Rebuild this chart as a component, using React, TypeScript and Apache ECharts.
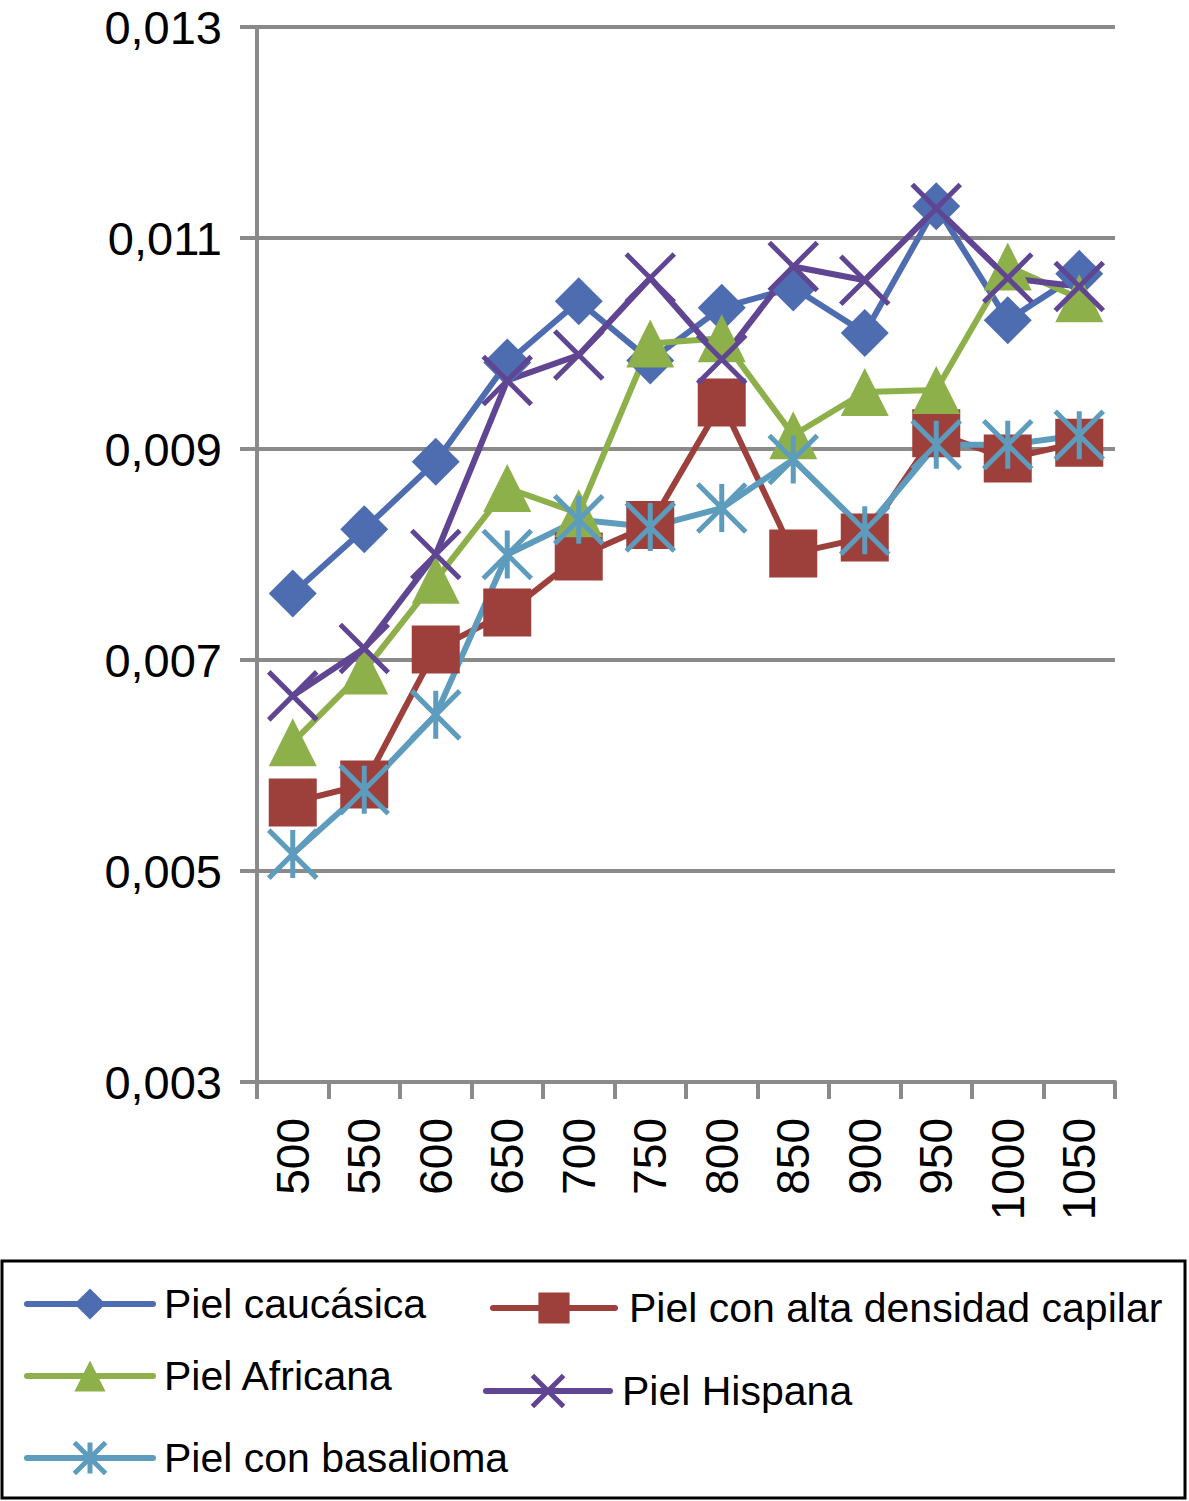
import { useEffect, useRef } from "react";
import * as echarts from "echarts/core";
import { LineChart } from "echarts/charts";
import { GridComponent, LegendComponent, GraphicComponent } from "echarts/components";
import { SVGRenderer } from "echarts/renderers";
import type { EChartsOption } from "echarts";

echarts.use([LineChart, GridComponent, LegendComponent, GraphicComponent, SVGRenderer]);

// longitudes de onda (nm)
const longitudes = ["500", "550", "600", "650", "700", "750", "800", "850", "900", "950", "1000", "1050"];

const caucasica = [0.00763, 0.00824, 0.00888, 0.00982, 0.0104, 0.00984, 0.01034, 0.01053, 0.0101, 0.0113, 0.01022, 0.01066];
const altaDensidad = [0.00565, 0.00582, 0.0071, 0.00745, 0.00798, 0.00828, 0.00944, 0.00801, 0.00816, 0.00915, 0.00891, 0.00906];
const africana = [0.00622, 0.0069, 0.00776, 0.00863, 0.00839, 0.01, 0.01005, 0.00913, 0.00954, 0.00956, 0.01073, 0.01043];
const hispana = [0.00666, 0.00711, 0.008, 0.00965, 0.00989, 0.01062, 0.00985, 0.01073, 0.0106, 0.01128, 0.01062, 0.01054];
const basalioma = [0.00516, 0.00577, 0.00648, 0.008, 0.00833, 0.00826, 0.00844, 0.0089, 0.00823, 0.00904, 0.00904, 0.00913];

const FONT = "'Liberation Sans', Arial, Helvetica, sans-serif";
const GRIS = "#8a8a8a";

// marcadores estilo Excel: aspa y asterisco (sólo trazo)
const ASPA = "path://M0,0L30,30M30,0L0,30";
const ASTERISCO = "path://M0,0L30,30M30,0L0,30M15,0L15,30";

const serie = (name: string, data: number[], color: string, symbol: string, trazo: boolean) => ({
  name,
  type: "line" as const,
  data,
  symbol,
  symbolSize: 48,
  lineStyle: { color, width: 6 },
  itemStyle: { color, borderColor: color, borderWidth: trazo ? 5 : 0 },
});

const leyenda = (name: string, left: number, lineaY: number, ancho: number, trazo: boolean, pad: number) => ({
  data: [name],
  left,
  top: lineaY - 19.5,
  padding: 0,
  itemWidth: ancho,
  itemHeight: 39,
  selectedMode: false,
  lineStyle: { width: 6, cap: "round" },
  itemStyle: { borderWidth: trazo ? 5 : 0 },
  textStyle: { fontSize: 41, fontFamily: FONT, color: "#000", lineHeight: 39, padding: [0, 0, 0, pad] },
});

function App() {
  const chartRef = useRef<HTMLDivElement>(null);

  useEffect(() => {
    document.body.style.margin = "0";
    const myChart = echarts.init(chartRef.current, null, { renderer: "svg" });

    const option: EChartsOption = {
      animation: false,
      backgroundColor: "#fff",
      grid: { left: 257, right: 74, top: 27, bottom: 419, outerBoundsMode: "none" } as any,
      xAxis: {
        type: "category",
        data: longitudes,
        boundaryGap: true,
        axisLine: { lineStyle: { color: GRIS, width: 4 } },
        axisTick: { show: true, length: 17, alignWithLabel: false, lineStyle: { color: GRIS, width: 4 } },
        axisLabel: { rotate: 90, interval: 0, margin: 36, fontSize: 46, fontFamily: FONT, color: "#000" },
        splitLine: { show: false },
      },
      yAxis: {
        type: "value",
        min: 0.003,
        max: 0.013,
        interval: 0.002,
        axisLine: { show: true, lineStyle: { color: GRIS, width: 4 } },
        axisTick: { show: true, length: 17, lineStyle: { color: GRIS, width: 4 } },
        splitLine: { show: true, lineStyle: { color: GRIS, width: 4 } },
        axisLabel: {
          margin: 35,
          fontSize: 47,
          fontFamily: FONT,
          color: "#000",
          formatter: (v: number) => v.toFixed(3).replace(".", ","),
        },
      },
      legend: [
        leyenda("Piel caucásica", 24, 1303, 126, false, 6),
        leyenda("Piel con alta densidad capilar", 490, 1307, 122, false, 9),
        leyenda("Piel Africana", 24, 1375, 126, false, 6),
        leyenda("Piel Hispana", 483, 1390, 124, true, 7),
        leyenda("Piel con basalioma", 24, 1457, 126, true, 6),
      ] as any,
      graphic: [
        {
          type: "rect",
          shape: { x: 2, y: 1261, width: 1183, height: 237 },
          style: { fill: "none", stroke: "#000", lineWidth: 3 },
        },
      ],
      series: [
        serie("Piel caucásica", caucasica, "#4e6db1", "diamond", false),
        serie("Piel con alta densidad capilar", altaDensidad, "#9d3f3b", "rect", false),
        serie("Piel Africana", africana, "#8eb04b", "triangle", false),
        serie("Piel Hispana", hispana, "#604593", ASPA, true),
        serie("Piel con basalioma", basalioma, "#5e9cbe", ASTERISCO, true),
      ],
    };

    myChart.setOption(option);

    return () => {
      myChart.dispose();
    };
  }, []);

  return <div ref={chartRef} style={{ width: "1189px", height: "1501px" }}></div>;
}

export default App;
